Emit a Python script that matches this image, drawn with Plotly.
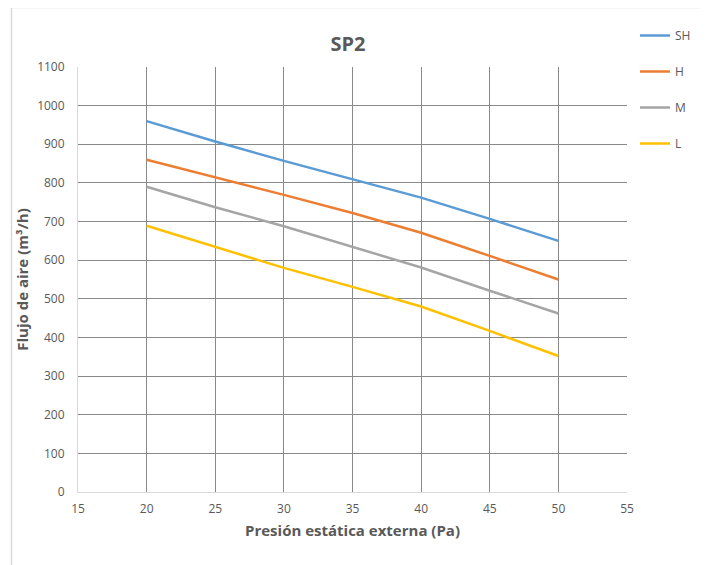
import plotly.graph_objects as go

presion = [20, 25, 30, 35, 40, 45, 50]
sh = [960, 907, 857, 810, 762, 707, 650]
h = [860, 815, 769, 722, 671, 611, 550]
m = [790, 737, 688, 635, 581, 521, 462]
l = [689, 634, 580, 531, 480, 417, 352]

series = [("SH", sh, "#5B9BD5"), ("H", h, "#ED7D31"), ("M", m, "#A5A5A5"), ("L", l, "#FFC000")]

txt = "#595959"
grid = "#898989"
axl = "#D9D9D9"
font = "Open Sans"

fig = go.Figure()
for name, vals, col in series:
    fig.add_trace(go.Scatter(x=presion, y=vals, name=name, mode="lines",
                             line=dict(color=col, width=2.5), legendgroup=name))

OFF = 8  # page body margin
W, H = 700, 557
L, R, T, B = 78 - OFF, 81, 67 - OFF, 73
pw, ph = W - L - R, H - T - B

def px(xp):
    return (xp - OFF - L) / pw

def py(yp):
    return (H - B - (yp - OFF)) / ph

fig.update_layout(
    width=W, height=H,
    margin=dict(l=L, r=R, t=T, b=B, autoexpand=False),
    paper_bgcolor="white", plot_bgcolor="white",
    font=dict(family=font, color=txt, size=12),
    title=dict(text="<b>SP2</b>", x=(348 - OFF) / W, xanchor="center",
               y=1 - (44 - OFF) / H, yanchor="middle",
               xref="container", yref="container",
               font=dict(size=20, color=txt, family=font)),
    showlegend=True,
    legend=dict(x=px(635), xanchor="left", y=py(21), yanchor="top",
                tracegroupgap=17, traceorder="grouped",
                font=dict(size=12, color=txt, family=font),
                bgcolor="rgba(0,0,0,0)"),
    xaxis=dict(range=[15, 55], dtick=5, tick0=15, showgrid=True, gridcolor=grid, gridwidth=1,
               showline=True, linecolor=axl, linewidth=1, zeroline=False, ticks="",
               ticklabelstandoff=6,
               tickfont=dict(size=12, color=txt, family=font),
               title=dict(text="<b>Presión estática externa (Pa)</b>", standoff=9,
                          font=dict(size=15, color=txt, family=font))),
    yaxis=dict(range=[0, 1100], dtick=100, tick0=0, showgrid=True, gridcolor=grid, gridwidth=1,
               showline=True, linecolor=axl, linewidth=1, zeroline=False, ticks="",
               ticklabelstandoff=10,
               tickfont=dict(size=12, color=txt, family=font),
               title=dict(text="<b>Flujo de aire (m³/h)</b>", standoff=4,
                          font=dict(size=15, color=txt, family=font))),
    shapes=[dict(type="rect", xref="paper", yref="paper",
                 x0=px(11.5), x1=px(702), y0=py(600), y1=py(7.5),
                 line=dict(color=axl, width=1.5), fillcolor="rgba(0,0,0,0)", layer="below")],
)

fig.write_html("out.html")
